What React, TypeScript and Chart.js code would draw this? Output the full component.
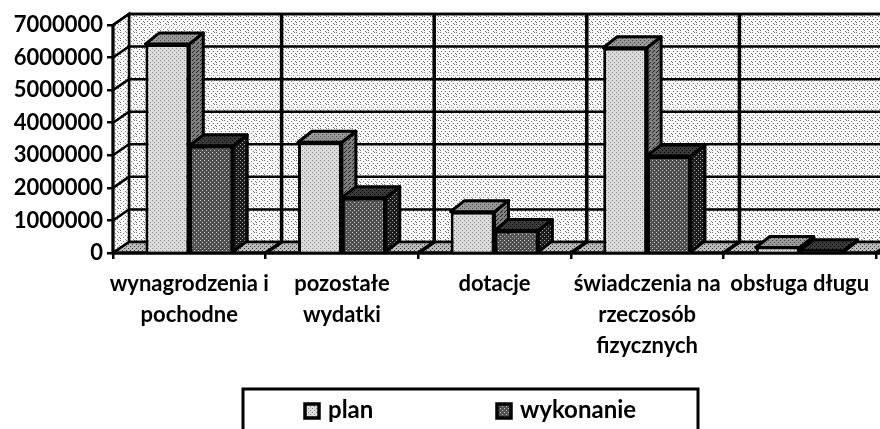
import React, { useEffect, useRef } from "react";
import { Chart, registerables } from "chart.js";

Chart.register(...registerables);

const categories = [
  ["wynagrodzenia i", "pochodne"],
  ["pozostałe", "wydatki"],
  ["dotacje"],
  ["świadczenia na", "rzeczosób", "fizycznych"],
  ["obsługa długu"],
];
const planValues = [6420000, 3400000, 1270000, 6300000, 170000];
const wykonanieValues = [3290000, 1700000, 690000, 2980000, 70000];
const seriesNames = ["plan", "wykonanie"];
const yTicks = [0, 1000000, 2000000, 3000000, 4000000, 5000000, 6000000, 7000000];

const FONT = "Lato, 'Noto Sans', sans-serif";
const DX = 16;
const DY = -11;
const BAR_DX = 14;
const BAR_DY = -11;

function dither(bg: string, fg: string, cells: number[][], size = 4): CanvasPattern {
  const c = document.createElement("canvas");
  c.width = size;
  c.height = size;
  const g = c.getContext("2d")!;
  g.fillStyle = bg;
  g.fillRect(0, 0, size, size);
  g.fillStyle = fg;
  for (const [x, y] of cells) g.fillRect(x, y, 1, 1);
  return g.createPattern(c, "repeat")!;
}

function poly(ctx: CanvasRenderingContext2D, pts: number[][], fill: any, stroke = "#000", lw = 1.5) {
  ctx.beginPath();
  pts.forEach(([x, y], i) => (i ? ctx.lineTo(x, y) : ctx.moveTo(x, y)));
  ctx.closePath();
  ctx.fillStyle = fill;
  ctx.fill();
  if (lw > 0) {
    ctx.strokeStyle = stroke;
    ctx.lineWidth = lw;
    ctx.stroke();
  }
}

export default function App() {
  const ref = useRef<HTMLCanvasElement>(null);

  useEffect(() => {
    const wall = dither("#fbfbfb", "#777777", [[0, 0], [3, 1], [6, 0], [1, 3], [5, 3], [3, 5], [7, 5], [0, 6], [5, 7]], 8);
    const floor = dither("#bbbbbb", "#333333", [[0, 0], [2, 2]]);
    const planFront = dither("#dcdcdc", "#888888", [[0, 0], [2, 2]]);
    const planTop = dither("#999999", "#444444", [[0, 0], [2, 2]]);
    const planSide = dither("#808080", "#222222", [[0, 0], [2, 2], [1, 3]]);
    const wykFront = dither("#4f4f4f", "#cccccc", [[0, 0], [2, 2]]);
    const wykTop = dither("#3a3a3a", "#000000", [[0, 0], [2, 2]]);
    const wykSide = dither("#1c1c1c", "#aaaaaa", [[0, 0], [2, 2]]);

    const scene = {
      id: "scene3d",
      beforeDatasetsDraw(chart: any) {
        const { ctx, chartArea: a, scales } = chart;
        const y = scales.y;
        ctx.save();
        poly(ctx, [[a.left + DX, a.top + DY], [882, a.top + DY], [882, a.bottom + DY], [a.left + DX, a.bottom + DY]], wall, "#000", 2.5);
        poly(ctx, [[a.left, a.top], [a.left + DX, a.top + DY], [a.left + DX, a.bottom + DY], [a.left, a.bottom]], wall, "#000", 2.5);
        poly(ctx, [[a.left, a.bottom], [a.left + DX, a.bottom + DY], [a.right + DX, a.bottom + DY], [a.right, a.bottom]], floor, "#000", 0);
        ctx.strokeStyle = "#000";
        ctx.lineWidth = 2.5;
        for (const t of yTicks) {
          const p = y.getPixelForValue(t);
          ctx.beginPath();
          ctx.moveTo(a.left, p);
          ctx.lineTo(a.left + DX, p + DY);
          ctx.lineTo(882, p + DY);
          ctx.stroke();
        }
        ctx.lineWidth = 3.5;
        const step = (a.right - a.left) / categories.length;
        for (let i = 1; i <= categories.length; i++) {
          const p = a.left + i * step;
          ctx.beginPath();
          ctx.moveTo(p, a.bottom);
          ctx.lineTo(p + DX, a.bottom + DY);
          if (i < categories.length) ctx.lineTo(p + DX, a.top + DY);
          ctx.stroke();
        }
        ctx.lineWidth = 3.5;
        ctx.beginPath();
        ctx.moveTo(a.left, a.bottom);
        ctx.lineTo(a.right + 4, a.bottom);
        ctx.stroke();
        ctx.beginPath();
        ctx.lineWidth = 3;
        ctx.moveTo(a.left, a.top);
        ctx.lineTo(a.left, a.bottom);
        ctx.stroke();

        // bar depth faces: plan first, then wykonanie, so the front of each hides what lies behind it
        ctx.lineJoin = "round";
        [0, 1].forEach((index) => {
          const isPlan = index === 0;
          for (const bar of chart.getDatasetMeta(index).data) {
            const half = bar.width / 2;
            const l = bar.x - half;
            const r = bar.x + half;
            const t = bar.y;
            const b = bar.base;
            poly(ctx, [[r, t], [r + BAR_DX, t + BAR_DY], [r + BAR_DX, b + BAR_DY], [r, b]], isPlan ? planSide : wykSide, "#000", 3);
            poly(ctx, [[l, t], [l + BAR_DX, t + BAR_DY], [r + BAR_DX, t + BAR_DY], [r, t]], isPlan ? planTop : wykTop, "#000", 3);
          }
        });
        ctx.restore();
      },
      afterDraw(chart: any) {
        const { ctx } = chart;
        ctx.save();
        ctx.strokeStyle = "#000";
        ctx.lineWidth = 3;
        ctx.beginPath();
        ctx.moveTo(243, 432);
        ctx.lineTo(243, 389);
        ctx.lineTo(698, 389);
        ctx.lineTo(698, 432);
        ctx.stroke();
        const slots = [
          { icon: 305, fill: planFront },
          { icon: 497, fill: wykFront },
        ];
        ctx.font = `bold 24px ${FONT}`;
        ctx.textBaseline = "middle";
        ctx.textAlign = "left";
        slots.forEach((s, i) => {
          ctx.fillStyle = s.fill;
          ctx.lineWidth = 3.5;
          ctx.fillRect(s.icon, 404, 14, 14);
          ctx.strokeRect(s.icon, 404, 14, 14);
          ctx.fillStyle = "#000";
          ctx.fillText(seriesNames[i], s.icon + 23, 410);
        });
        ctx.restore();
      },
    };

    const chart = new Chart(ref.current!, {
      type: "bar",
      data: {
        labels: categories as any,
        datasets: [
          { label: seriesNames[0], data: planValues, backgroundColor: planFront as any, borderColor: "#000", borderWidth: 3 },
          { label: seriesNames[1], data: wykonanieValues, backgroundColor: wykFront as any, borderColor: "#000", borderWidth: 3 },
        ],
      },
      options: {
        animation: false,
        responsive: false,
        devicePixelRatio: 1,
        layout: { padding: { top: 25, right: 4, left: 0, bottom: 0 } },
        datasets: { bar: { barPercentage: 1, categoryPercentage: 0.575, grouped: true } },
        plugins: { legend: { display: false }, tooltip: { enabled: false }, title: { display: false } },
        scales: {
          x: {
            afterFit: (s: any) => { s.height = 176; },
            grid: { drawOnChartArea: false, drawTicks: true, tickLength: 6, color: "#000", lineWidth: 2.5 },
            border: { display: false },
            ticks: {
              color: "#000",
              autoSkip: false,
              maxRotation: 0,
              padding: 9,
              font: { family: FONT, weight: "bold", size: 22, lineHeight: 1.42 },
            },
          },
          y: {
            min: 0,
            max: 7000000,
            afterFit: (s: any) => { s.width = 113; },
            afterBuildTicks: (s: any) => { s.ticks = yTicks.map((value) => ({ value })); },
            grid: { drawOnChartArea: false, drawTicks: true, tickLength: 6, color: "#000", lineWidth: 2.5 },
            border: { display: false },
            ticks: {
              color: "#000",
              padding: 4,
              callback: (v: any) => String(v),
              font: { family: FONT, weight: "bold", size: 22 },
            },
          },
        },
      },
      plugins: [scene],
    } as any);
    return () => chart.destroy();
  }, []);

  return (
    <div style={{ position: "fixed", left: 0, top: 0, width: 880, height: 429, background: "#fff", overflow: "hidden" }}>
      <canvas ref={ref} width={880} height={429} style={{ display: "block" }} />
    </div>
  );
}
